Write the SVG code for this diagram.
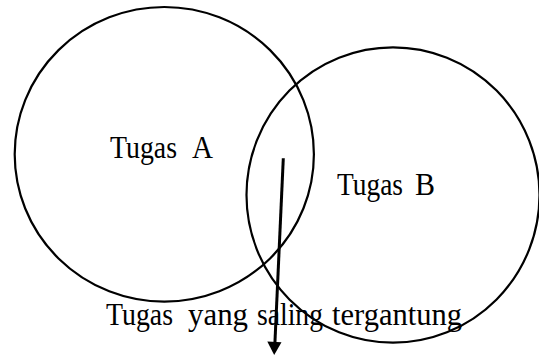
<svg xmlns="http://www.w3.org/2000/svg" width="539" height="356" viewBox="0 0 539 356">
<style>
.c{fill:none;stroke:#000;stroke-width:2.2}
.t{font-family:"Liberation Serif","Times New Roman",serif;font-size:31px;fill:#000}
.a{stroke:#000;stroke-width:3;fill:none}
</style>
<rect width="539" height="356" fill="#fff"/>
<g id="tugasA">
<ellipse class="c" cx="164.3" cy="154.3" rx="149.6" ry="147.3"/>
<text class="t" y="158"><tspan x="110" textLength="67" lengthAdjust="spacingAndGlyphs">Tugas</tspan><tspan x="192" textLength="21" lengthAdjust="spacingAndGlyphs">A</tspan></text>
</g>
<g id="tugasB">
<ellipse class="c" cx="393" cy="195" rx="146.5" ry="147.7"/>
<text class="t" y="195"><tspan x="337" textLength="66" lengthAdjust="spacingAndGlyphs">Tugas</tspan><tspan x="415" textLength="20" lengthAdjust="spacingAndGlyphs">B</tspan></text>
</g>
<g id="saling">
<text class="t" y="325"><tspan x="106" textLength="67" lengthAdjust="spacingAndGlyphs">Tugas</tspan><tspan x="188" textLength="60" lengthAdjust="spacingAndGlyphs">yang</tspan><tspan x="257" textLength="66" lengthAdjust="spacingAndGlyphs">saling</tspan><tspan x="332" textLength="130" lengthAdjust="spacingAndGlyphs">tergantung</tspan></text>
</g>
<g id="connectors">
<line class="a" x1="283.3" y1="158.3" x2="274.9" y2="343"/>
<polygon points="267.3,341.5 281.5,342.2 274.2,355" fill="#000"/>
</g>
</svg>
